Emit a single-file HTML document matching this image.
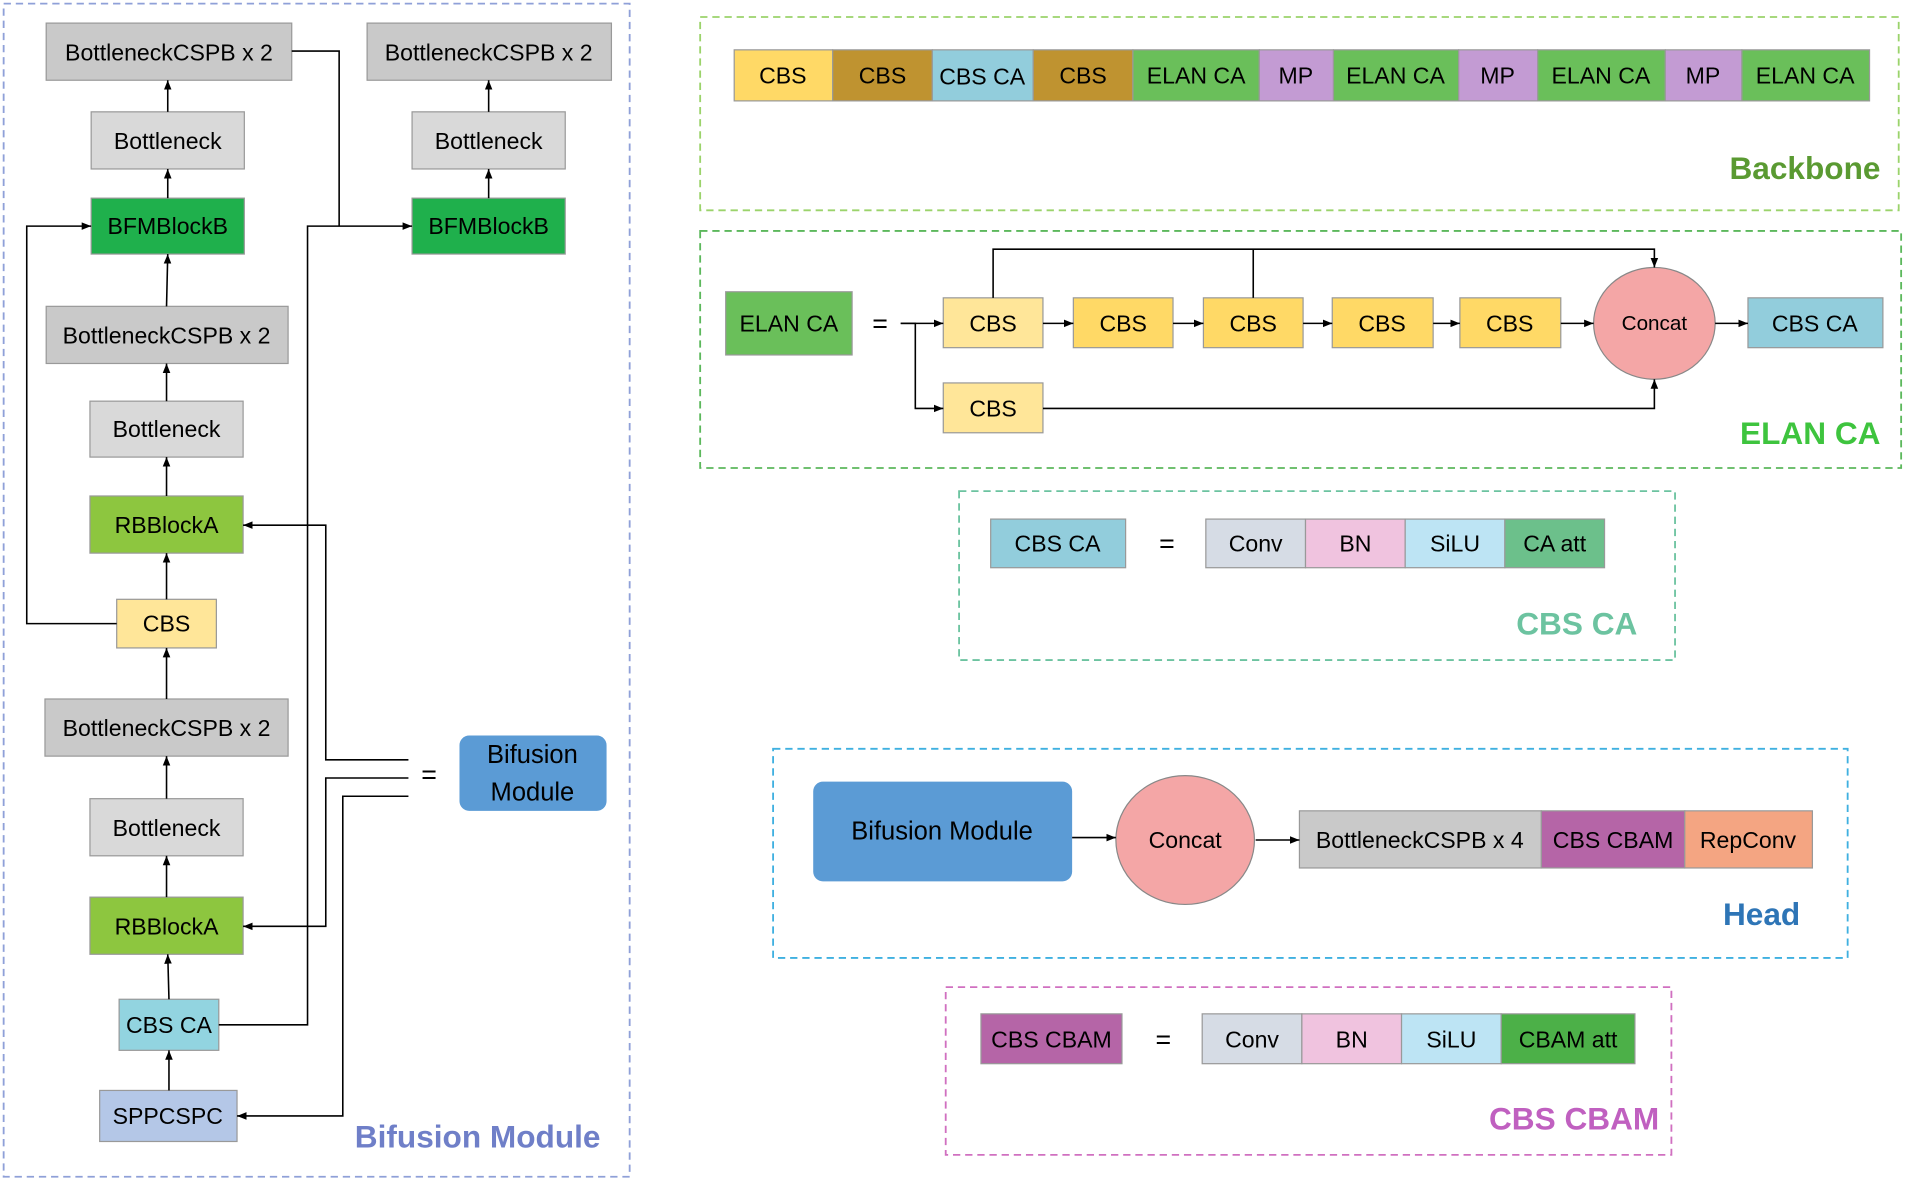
<!DOCTYPE html>
<html><head><meta charset="utf-8"><style>
html,body{margin:0;padding:0;background:#fff;}
svg{display:block;}
text{font-family:"Liberation Sans",sans-serif;}
</style></head><body>
<svg width="1906" height="1181" viewBox="0 0 1568 971.5" preserveAspectRatio="none" xmlns="http://www.w3.org/2000/svg">
<defs>
<marker id="a" viewBox="0 0 10 10" refX="10" refY="5" markerWidth="6" markerHeight="6" orient="auto"><path d="M0,1 L10,5 L0,9 z" fill="#000"/></marker>
</defs>
<g fill="none" stroke-dasharray="6,4" stroke-width="1.5">
<rect x="3" y="3" width="515" height="965" stroke="#8fa0d8"/>
<rect x="576" y="14" width="986" height="159" stroke="#9bd36b"/>
<rect x="576" y="190" width="988" height="195" stroke="#5cb85c"/>
<rect x="789" y="404" width="589" height="139" stroke="#6cc3a0"/>
<rect x="636" y="616" width="884" height="172" stroke="#3fb0e0"/>
<rect x="778" y="812" width="597" height="138" stroke="#d070c0"/>
</g>
<g stroke="#999" stroke-width="1" font-size="19" text-anchor="middle" dominant-baseline="central">
<!-- left column -->
<rect x="38" y="19" width="202" height="47" fill="#c9c9c9"/><text x="139" y="43" stroke="none">BottleneckCSPB  x 2</text>
<rect x="75" y="92" width="126" height="47" fill="#d9d9d9"/><text x="138" y="116" stroke="none">Bottleneck</text>
<rect x="75" y="163" width="126" height="46" fill="#1fb04c"/><text x="138" y="186" stroke="none">BFMBlockB</text>
<rect x="38" y="252" width="199" height="47" fill="#c9c9c9"/><text x="137" y="276" stroke="none">BottleneckCSPB  x 2</text>
<rect x="74" y="330" width="126" height="46" fill="#d9d9d9"/><text x="137" y="353" stroke="none">Bottleneck</text>
<rect x="74" y="408" width="126" height="47" fill="#8dc63f"/><text x="137" y="432" stroke="none">RBBlockA</text>
<rect x="96" y="493" width="82" height="40" fill="#ffe699"/><text x="137" y="513" stroke="none">CBS</text>
<rect x="37" y="575" width="200" height="47" fill="#c9c9c9"/><text x="137" y="599" stroke="none">BottleneckCSPB  x 2</text>
<rect x="74" y="657" width="126" height="47" fill="#d9d9d9"/><text x="137" y="681" stroke="none">Bottleneck</text>
<rect x="74" y="738" width="126" height="47" fill="#8dc63f"/><text x="137" y="762" stroke="none">RBBlockA</text>
<rect x="98" y="822" width="82" height="42" fill="#92d4e0"/><text x="139" y="843" stroke="none">CBS CA</text>
<rect x="82" y="897" width="113" height="42" fill="#b4c7e7"/><text x="138" y="918" stroke="none">SPPCSPC</text>
<rect x="302" y="19" width="201" height="47" fill="#c9c9c9"/><text x="402" y="43" stroke="none">BottleneckCSPB  x 2</text>
<rect x="339" y="92" width="126" height="47" fill="#d9d9d9"/><text x="402" y="116" stroke="none">Bottleneck</text>
<rect x="339" y="163" width="126" height="46" fill="#1fb04c"/><text x="402" y="186" stroke="none">BFMBlockB</text>
<rect x="378" y="605" width="121" height="62" rx="8" fill="#5b9bd5" stroke="none"/><text x="438" y="621" stroke="none" font-size="21">Bifusion</text><text x="438" y="652" stroke="none" font-size="21">Module</text>
<text x="353" y="637" stroke="none" font-size="22">=</text>
<!-- backbone -->
<rect x="604" y="41" width="81" height="42" fill="#ffd966"/><text x="644" y="62" stroke="none">CBS</text>
<rect x="685" y="41" width="82" height="42" fill="#bf9330"/><text x="726" y="62" stroke="none">CBS</text>
<rect x="767" y="41" width="83" height="42" fill="#92cddc"/><text x="808" y="63" stroke="none">CBS CA</text>
<rect x="850" y="41" width="82" height="42" fill="#bf9330"/><text x="891" y="62" stroke="none">CBS</text>
<rect x="932" y="41" width="104" height="42" fill="#6abf5a"/><text x="984" y="62" stroke="none">ELAN CA</text>
<rect x="1036" y="41" width="61" height="42" fill="#c39bd3"/><text x="1066" y="62" stroke="none">MP</text>
<rect x="1097" y="41" width="103" height="42" fill="#6abf5a"/><text x="1148" y="62" stroke="none">ELAN CA</text>
<rect x="1200" y="41" width="65" height="42" fill="#c39bd3"/><text x="1232" y="62" stroke="none">MP</text>
<rect x="1265" y="41" width="105" height="42" fill="#6abf5a"/><text x="1317" y="62" stroke="none">ELAN CA</text>
<rect x="1370" y="41" width="63" height="42" fill="#c39bd3"/><text x="1401" y="62" stroke="none">MP</text>
<rect x="1433" y="41" width="105" height="42" fill="#6abf5a"/><text x="1485" y="62" stroke="none">ELAN CA</text>
<!-- elan -->
<rect x="597" y="240" width="104" height="52" fill="#6abf5a"/><text x="649" y="266" stroke="none">ELAN CA</text>
<text x="724" y="266" stroke="none" font-size="22">=</text>
<rect x="776" y="245" width="82" height="41" fill="#ffe699"/><text x="817" y="266" stroke="none">CBS</text>
<rect x="883" y="245" width="82" height="41" fill="#ffd966"/><text x="924" y="266" stroke="none">CBS</text>
<rect x="990" y="245" width="82" height="41" fill="#ffd966"/><text x="1031" y="266" stroke="none">CBS</text>
<rect x="1096" y="245" width="83" height="41" fill="#ffd966"/><text x="1137" y="266" stroke="none">CBS</text>
<rect x="1201" y="245" width="83" height="41" fill="#ffd966"/><text x="1242" y="266" stroke="none">CBS</text>
<rect x="776" y="315" width="82" height="41" fill="#ffe699"/><text x="817" y="336" stroke="none">CBS</text>
<ellipse cx="1361" cy="266" rx="50" ry="46" fill="#f4a6a6" stroke="#888"/><text x="1361" y="266" stroke="none" font-size="17">Concat</text>
<rect x="1438" y="245" width="111" height="41" fill="#92cddc"/><text x="1493" y="266" stroke="none">CBS CA</text>
<!-- cbs ca -->
<rect x="815" y="427" width="111" height="40" fill="#92cddc"/><text x="870" y="447" stroke="none">CBS CA</text>
<text x="960" y="447" stroke="none" font-size="22">=</text>
<rect x="992" y="427" width="82" height="40" fill="#d6dce5"/><text x="1033" y="447" stroke="none">Conv</text>
<rect x="1074" y="427" width="82" height="40" fill="#f0c3df"/><text x="1115" y="447" stroke="none">BN</text>
<rect x="1156" y="427" width="82" height="40" fill="#bde4f4"/><text x="1197" y="447" stroke="none">SiLU</text>
<rect x="1238" y="427" width="82" height="40" fill="#6cc08b"/><text x="1279" y="447" stroke="none">CA att</text>
<!-- head -->
<rect x="669" y="643" width="213" height="82" rx="8" fill="#5b9bd5" stroke="none"/><text x="775" y="684" stroke="none" font-size="21">Bifusion Module</text>
<ellipse cx="975" cy="691" rx="57" ry="53" fill="#f4a6a6" stroke="#888"/><text x="975" y="691" stroke="none">Concat</text>
<rect x="1069" y="667" width="199" height="47" fill="#c9c9c9"/><text x="1168" y="691" stroke="none">BottleneckCSPB  x 4</text>
<rect x="1268" y="667" width="118" height="47" fill="#b565a7"/><text x="1327" y="691" stroke="none">CBS CBAM</text>
<rect x="1386" y="667" width="105" height="47" fill="#f4a582"/><text x="1438" y="691" stroke="none">RepConv</text>
<!-- cbam -->
<rect x="807" y="834" width="116" height="41" fill="#b565a7"/><text x="865" y="855" stroke="none">CBS CBAM</text>
<text x="957" y="855" stroke="none" font-size="22">=</text>
<rect x="989" y="834" width="82" height="41" fill="#d6dce5"/><text x="1030" y="855" stroke="none">Conv</text>
<rect x="1071" y="834" width="82" height="41" fill="#f0c3df"/><text x="1112" y="855" stroke="none">BN</text>
<rect x="1153" y="834" width="82" height="41" fill="#bde4f4"/><text x="1194" y="855" stroke="none">SiLU</text>
<rect x="1235" y="834" width="110" height="41" fill="#4cb048"/><text x="1290" y="855" stroke="none">CBAM att</text>
</g>
<g stroke="#000" stroke-width="1.3" fill="none">
<line x1="138" y1="92" x2="138" y2="66" marker-end="url(#a)"/>
<line x1="138" y1="163" x2="138" y2="139" marker-end="url(#a)"/>
<line x1="137" y1="252" x2="138" y2="209" marker-end="url(#a)"/>
<line x1="137" y1="330" x2="137" y2="299" marker-end="url(#a)"/>
<line x1="137" y1="408" x2="137" y2="376" marker-end="url(#a)"/>
<line x1="137" y1="493" x2="137" y2="455" marker-end="url(#a)"/>
<line x1="137" y1="575" x2="137" y2="533" marker-end="url(#a)"/>
<line x1="137" y1="657" x2="137" y2="622" marker-end="url(#a)"/>
<line x1="137" y1="738" x2="137" y2="704" marker-end="url(#a)"/>
<line x1="139" y1="822" x2="138" y2="785" marker-end="url(#a)"/>
<line x1="139" y1="897" x2="139" y2="864" marker-end="url(#a)"/>
<line x1="402" y1="92" x2="402" y2="66" marker-end="url(#a)"/>
<line x1="402" y1="163" x2="402" y2="139" marker-end="url(#a)"/>
<polyline points="96,513 22,513 22,186 75,186" marker-end="url(#a)"/>
<polyline points="240,42 279,42 279,186"/>
<polyline points="180,843 253,843 253,186 339,186" marker-end="url(#a)"/>
<polyline points="336,625 268,625 268,432 200,432" marker-end="url(#a)"/>
<polyline points="336,640 268,640 268,762 200,762" marker-end="url(#a)"/>
<polyline points="336,655 282,655 282,918 195,918" marker-end="url(#a)"/>
<line x1="741" y1="266" x2="776" y2="266" marker-end="url(#a)"/>
<polyline points="741,266 753,266 753,336 776,336" marker-end="url(#a)"/>
<line x1="858" y1="266" x2="883" y2="266" marker-end="url(#a)"/>
<line x1="965" y1="266" x2="990" y2="266" marker-end="url(#a)"/>
<line x1="1072" y1="266" x2="1096" y2="266" marker-end="url(#a)"/>
<line x1="1179" y1="266" x2="1201" y2="266" marker-end="url(#a)"/>
<line x1="1284" y1="266" x2="1311" y2="266" marker-end="url(#a)"/>
<line x1="1411" y1="266" x2="1438" y2="266" marker-end="url(#a)"/>
<polyline points="817,245 817,205 1361,205 1361,220" marker-end="url(#a)"/>
<line x1="1031" y1="245" x2="1031" y2="205"/>
<polyline points="858,336 1361,336 1361,312" marker-end="url(#a)"/>
<line x1="882" y1="689" x2="918" y2="689" marker-end="url(#a)"/>
<line x1="1033" y1="691" x2="1069" y2="691" marker-end="url(#a)"/>
</g>
<g font-weight="bold" font-size="26" text-anchor="end" dominant-baseline="central">
<text x="494" y="935" fill="#6f7fc8">Bifusion Module</text>
<text x="1547" y="138" fill="#5a9a32">Backbone</text>
<text x="1547" y="356" fill="#3ec43e">ELAN CA</text>
<text x="1347" y="513" fill="#6cc3a0">CBS CA</text>
<text x="1481" y="752" fill="#2e75b6">Head</text>
<text x="1365" y="920" fill="#c060c0">CBS CBAM</text>
</g>
</svg>
</body></html>
